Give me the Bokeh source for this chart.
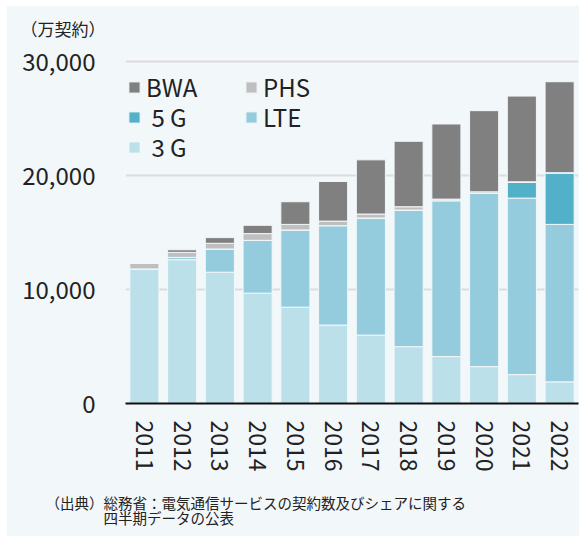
from bokeh.plotting import figure
from bokeh.models import (ColumnDataSource, Legend, LegendItem, Title, Range1d,
                          FixedTicker, NumeralTickFormatter)
from bokeh.embed import file_html
from bokeh.resources import INLINE

years = ["2011", "2012", "2013", "2014", "2015", "2016", "2017", "2018", "2019", "2020", "2021", "2022"]
g3 = [11820, 12630, 11530, 9690, 8460, 6890, 6010, 4990, 4120, 3240, 2540, 1900]
lte = [0, 200, 2040, 4640, 6780, 8730, 10280, 12000, 13690, 15210, 15500, 13830]
g5 = [0, 0, 0, 0, 0, 0, 0, 0, 0, 0, 1370, 4500]
phs = [490, 440, 500, 590, 490, 400, 350, 290, 140, 140, 60, 40]
bwa = [0, 230, 500, 730, 1990, 3480, 4760, 5750, 6600, 7130, 7530, 7990]

series = ["g3", "lte", "g5", "phs", "bwa"]
names = {"bwa": "BWA", "phs": "PHS", "g5": " 5 G", "lte": "LTE", "g3": " 3 G"}
colors = {"g3": "#bce0e9", "lte": "#94cbdd", "g5": "#52b0c9", "phs": "#bfbfbf", "bwa": "#808080"}

unit_text = "（万契約）"
note_text = "（出典）総務省：電気通信サービスの契約数及びシェアに関する\n　　　　四半期データの公表"

BG = "#f2f7fa"
FONT = "Noto Sans CJK JP"
TXT = "#222222"

source = ColumnDataSource(dict(year=years, g3=g3, lte=lte, g5=g5, phs=phs, bwa=bwa))

p = figure(x_range=years, y_range=Range1d(0, 30300), width=573, height=531,
           output_backend="svg", toolbar_location=None,
           min_border_left=119, min_border_right=1, min_border_top=53, min_border_bottom=133)
p.margin = (5, 0, 0, 6)
p.background_fill_color = BG
p.border_fill_color = BG
p.outline_line_color = None

renderers = p.vbar_stack(series, x="year", width=0.77, source=source,
                         color=[colors[s] for s in series], line_color=BG, line_width=1)
rmap = dict(zip(series, renderers))

# axes
p.yaxis.ticker = FixedTicker(ticks=[0, 10000, 20000, 30000])
p.yaxis.formatter = NumeralTickFormatter(format="0,0")
p.yaxis.axis_line_color = None
p.yaxis.major_tick_line_color = None
p.yaxis.minor_tick_line_color = None
p.yaxis.major_label_text_font = FONT
p.yaxis.major_label_text_font_size = "24px"
p.yaxis.major_label_text_color = TXT
p.yaxis.major_label_standoff = 24

p.xaxis.axis_line_color = "#111111"
p.xaxis.axis_line_width = 2
p.xaxis.major_tick_line_color = None
p.xaxis.major_tick_out = 0
p.xaxis.minor_tick_line_color = None
p.xaxis.major_label_orientation = "vertical"
p.xaxis.major_label_text_font = FONT
p.xaxis.major_label_text_font_size = "23px"
p.xaxis.major_label_text_color = TXT
p.xaxis.major_label_standoff = 17

p.xgrid.grid_line_color = None
p.ygrid.grid_line_color = "#dcdcdc"
p.ygrid.grid_line_width = 2
p.x_range.range_padding = 0

# legend: one single-item legend per cell of a 2-column grid
def make_legend(key, loc):
    lg = Legend(items=[LegendItem(label=names[key], renderers=[rmap[key]])],
                location=loc, orientation="vertical")
    lg.glyph_width = 14
    lg.glyph_height = 14
    lg.label_text_font = FONT
    lg.label_text_font_size = "24px"
    lg.label_text_color = TXT
    lg.label_height = 24
    lg.label_standoff = 5
    lg.spacing = 0
    lg.padding = 0
    lg.margin = 0
    lg.background_fill_alpha = 0
    lg.border_line_alpha = 0
    return lg

legend_cells = [("bwa", (2, 299)), ("phs", (119, 299)),
                ("g5", (2, 269)), ("lte", (119, 269)),
                ("g3", (2, 239))]
for key, loc in legend_cells:
    p.add_layout(make_legend(key, loc), "center")

# unit label (above) and source note (below); spacers keep the frame in place
def title(text, offset, standoff, size, line_height=1.0):
    return Title(text=text, align="left", offset=offset, standoff=standoff,
                 text_font=FONT, text_font_size=size, text_font_style="normal",
                 text_color=TXT, text_line_height=line_height)

p.add_layout(title(" ", 0, 15, "1px"), "above")
p.add_layout(title(unit_text, -105, 0, "17px"), "above")
p.add_layout(title(" ", 0, 12, "1px"), "below")
p.add_layout(title(note_text, -80, 0, "14.5px", 0.74), "below")

open("out.html", "w").write(file_html(p, INLINE))
